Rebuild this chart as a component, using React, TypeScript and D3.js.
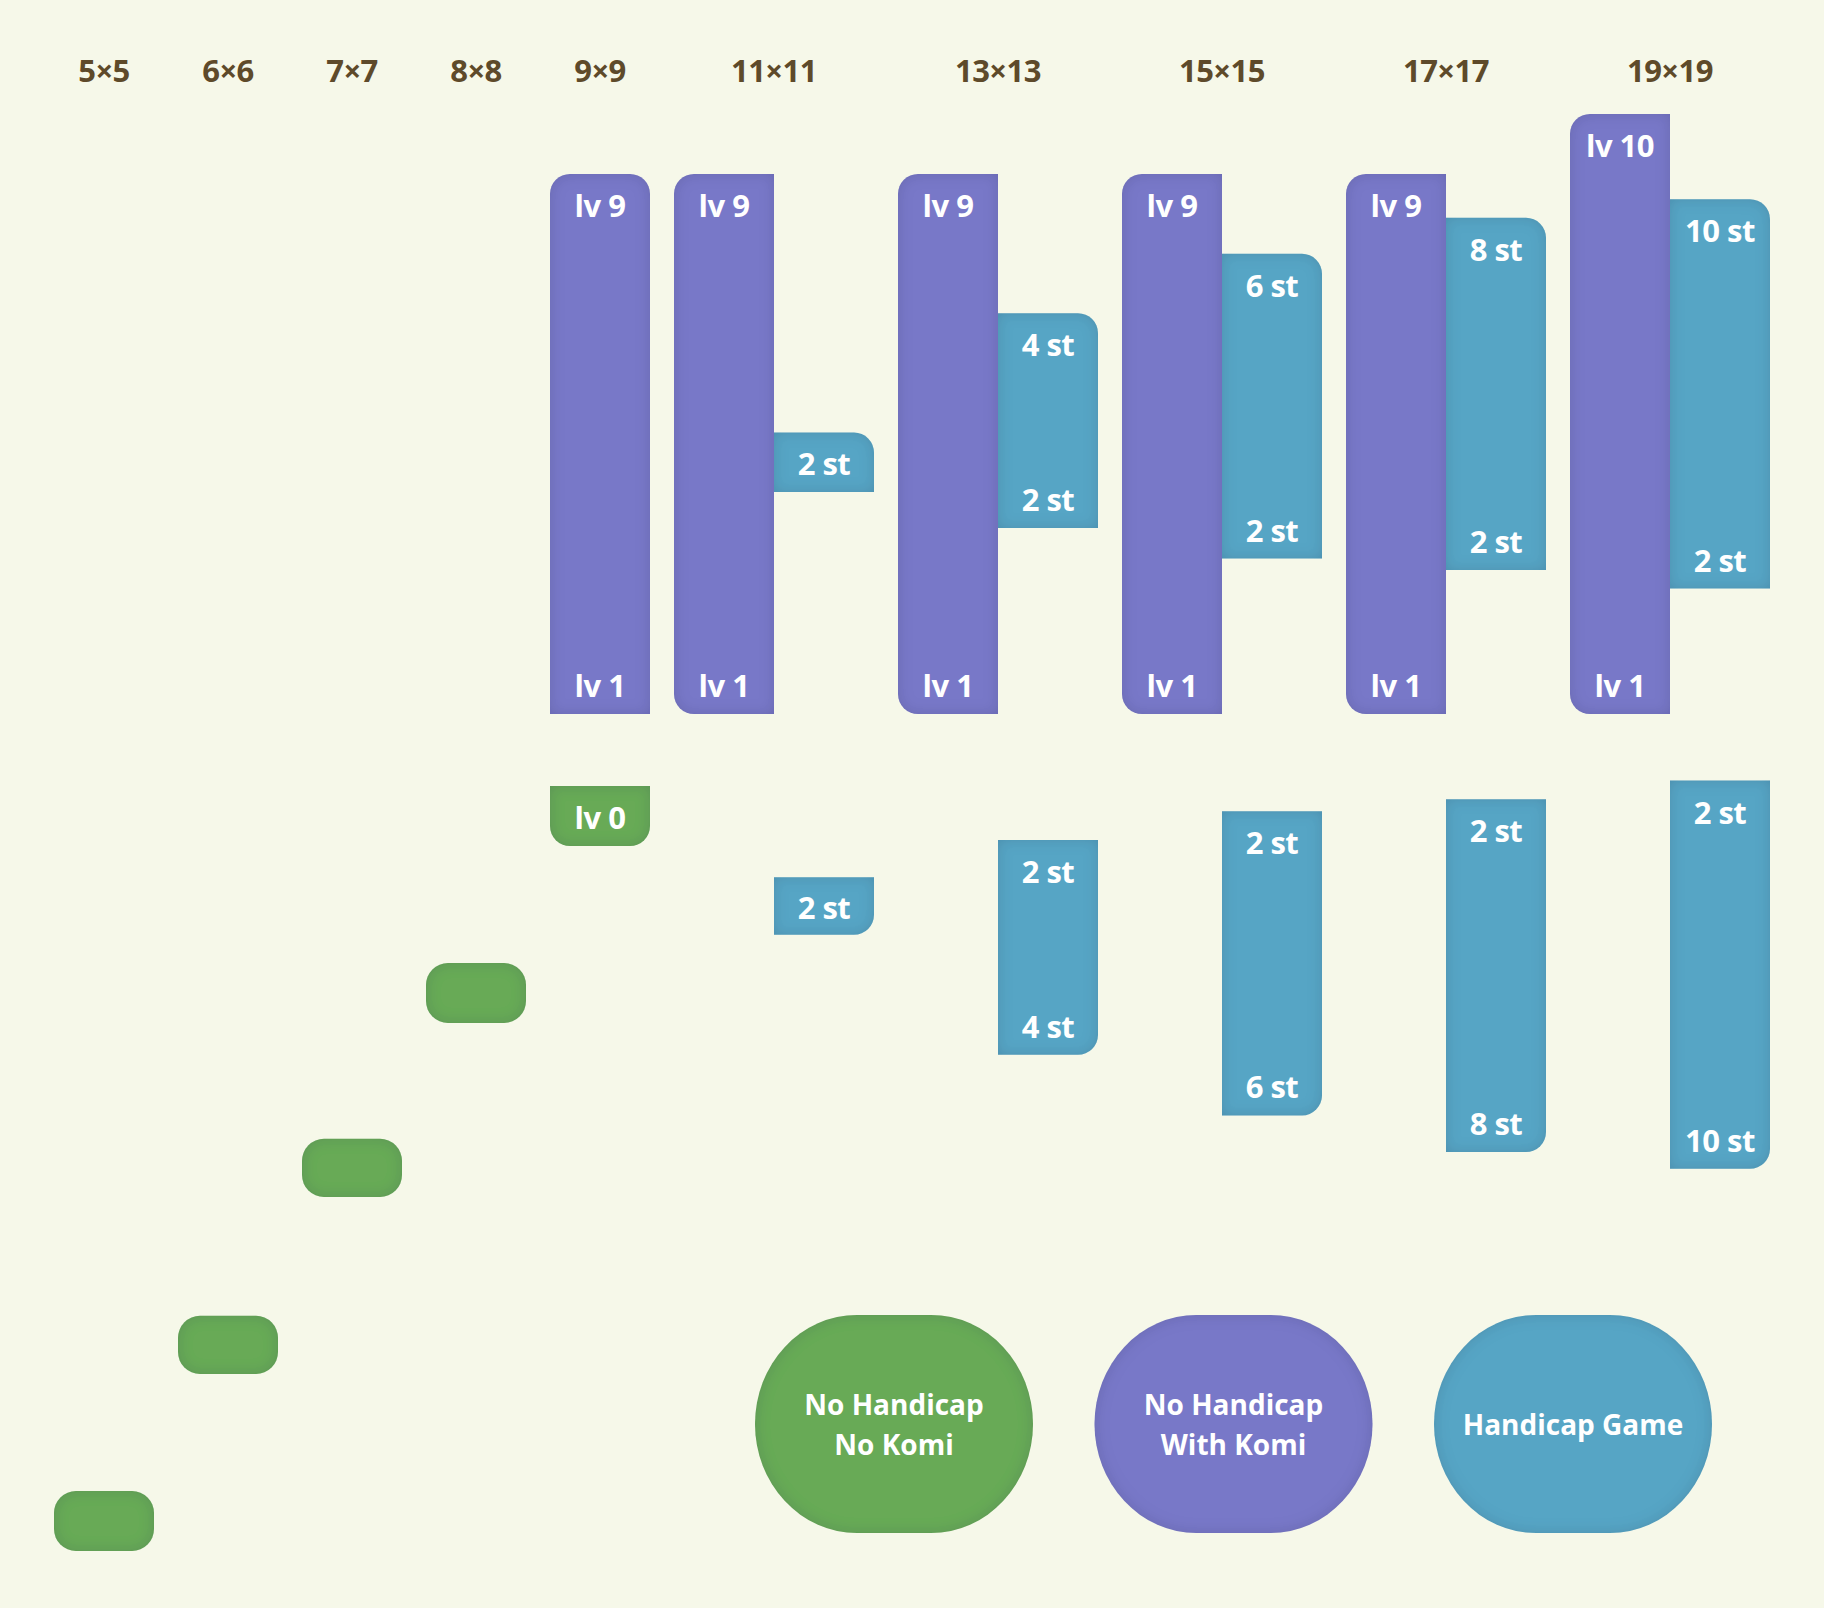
import React, { useEffect } from "react";
import * as d3 from "d3";

// ---------- data ----------
const BOARDS = ["5×5", "6×6", "7×7", "8×8", "9×9", "11×11", "13×13", "15×15", "17×17", "19×19"];
const SLOTS = [1, 1, 1, 1, 1, 2, 2, 2, 2, 2];

// No handicap, no komi (green) — vertical extent in level units
const NOKOMI_TOP = [-12.95, -10.03, -7.08, -4.15, -1.2, null, null, null, null, null];
const NOKOMI_BOTTOM = [-13.95, -11.0, -8.05, -5.15, -2.2, null, null, null, null, null];
const NOKOMI_LABEL = ["", "", "", "", "lv 0", "", "", "", "", ""];

// No handicap, with komi (purple) — level range
const KOMI_MIN = [null, null, null, null, 1, 1, 1, 1, 1, 1];
const KOMI_MAX = [null, null, null, null, 9, 9, 9, 9, 9, 10];

// Handicap game (teal) — stones range and vertical extents in level units
const HC_MIN = [null, null, null, null, null, 2, 2, 2, 2, 2];
const HC_MAX = [null, null, null, null, null, 2, 4, 6, 8, 10];
const HC_UP_TOP = [null, null, null, null, null, 4.69, 6.68, 7.67, 8.27, 8.58];
const HC_UP_BOTTOM = [null, null, null, null, null, 3.7, 3.1, 2.59, 2.4, 2.09];
const HC_LOW_TOP = [null, null, null, null, null, -2.72, -2.1, -1.62, -1.42, -1.11];
const HC_LOW_BOTTOM = [null, null, null, null, null, -3.68, -5.68, -6.69, -7.3, -7.58];

const LEGEND = [
  { key: "green", lines: ["No Handicap", "No Komi"] },
  { key: "purple", lines: ["No Handicap", "With Komi"] },
  { key: "teal", lines: ["Handicap Game"] },
];

// ---------- styles ----------
const W = 1824;
const H = 1608;
const BG = "#f6f8e9";
const COLORS: Record<string, string> = { green: "#67aa56", purple: "#7878c8", teal: "#56a5c5" };
const LABEL_COLOR = "#5e4a2a";
const FONT = "'Open Sans', 'Noto Sans', sans-serif";
const GAP = 0.24; // gap between columns, in slot units
const SLOT_PX = 100;

function roundedPath(x: number, y: number, w: number, h: number, r: number, c: [boolean, boolean, boolean, boolean]) {
  const [tl, tr, br, bl] = c;
  const p = d3.path();
  p.moveTo(x + (tl ? r : 0), y);
  p.lineTo(x + w - (tr ? r : 0), y);
  if (tr) p.arcTo(x + w, y, x + w, y + r, r);
  p.lineTo(x + w, y + h - (br ? r : 0));
  if (br) p.arcTo(x + w, y + h, x + w - r, y + h, r);
  p.lineTo(x + (bl ? r : 0), y + h);
  if (bl) p.arcTo(x, y + h, x, y + h - r, r);
  p.lineTo(x, y + (tl ? r : 0));
  if (tl) p.arcTo(x, y, x + r, y, r);
  p.closePath();
  return p.toString();
}

export default function App() {
  useEffect(() => {
    document.body.style.margin = "0";
    document.body.style.background = BG;
  }, []);

  // x layout: cumulative slot units
  const starts: number[] = [];
  let acc = 0;
  SLOTS.forEach((s, i) => {
    starts.push(acc);
    acc += s + (i < SLOTS.length - 1 ? GAP : 0);
  });
  const total = acc;
  const x = d3.scaleLinear().domain([0, total]).range([54, 54 + total * SLOT_PX]);
  const slotW = x(1) - x(0);

  // y: level units (boundary of lv1 bottom = 0)
  const y = d3.scaleLinear().domain([0, 9]).range([714, 174]);

  const R = 20;
  const shapes: React.ReactNode[] = [];
  const texts: React.ReactNode[] = [];
  const labelInset = 30;

  const barText = (key: string, cx: number, cy: number, t: string) => (
    <text key={key} x={cx} y={cy} dy="0.42em" textAnchor="middle" fill="#fff" fontFamily={FONT} fontWeight={700} fontSize={31} letterSpacing={-0.5}>
      {t}
    </text>
  );

  BOARDS.forEach((b, i) => {
    const x0 = x(starts[i]);
    // green
    if (NOKOMI_TOP[i] !== null) {
      const t = y(NOKOMI_TOP[i] as number);
      const bt = y(NOKOMI_BOTTOM[i] as number);
      const underPurple = KOMI_MIN[i] !== null;
      const corners: [boolean, boolean, boolean, boolean] = underPurple ? [false, false, true, true] : [true, true, true, true];
      shapes.push(
        <path key={`g${i}`} d={roundedPath(x0, t, slotW, bt - t, underPurple ? R : 22, corners)} fill={COLORS.green} filter="url(#inset)" />
      );
      if (NOKOMI_LABEL[i]) texts.push(barText(`gt${i}`, x0 + slotW / 2, (t + bt) / 2, NOKOMI_LABEL[i]));
    }
    // purple
    if (KOMI_MIN[i] !== null) {
      const lo = KOMI_MIN[i] as number;
      const hi = KOMI_MAX[i] as number;
      const t = y(hi);
      const bt = y(lo - 1);
      const hasHc = HC_MIN[i] !== null;
      const hasGreen = NOKOMI_TOP[i] !== null;
      const corners: [boolean, boolean, boolean, boolean] = [true, !hasHc, !hasHc && !hasGreen, !hasGreen];
      shapes.push(<path key={`p${i}`} d={roundedPath(x0, t, slotW, bt - t, R, corners)} fill={COLORS.purple} filter="url(#inset)" />);
      texts.push(barText(`pt${i}`, x0 + slotW / 2, t + labelInset, `lv ${hi}`));
      texts.push(barText(`pb${i}`, x0 + slotW / 2, bt - labelInset, `lv ${lo}`));
    }
    // teal
    if (HC_MIN[i] !== null) {
      const lo = HC_MIN[i] as number;
      const hi = HC_MAX[i] as number;
      const tx = x(starts[i] + 1);
      const ut = y(HC_UP_TOP[i] as number);
      const ub = y(HC_UP_BOTTOM[i] as number);
      const lt = y(HC_LOW_TOP[i] as number);
      const lb = y(HC_LOW_BOTTOM[i] as number);
      shapes.push(<path key={`tu${i}`} d={roundedPath(tx, ut, slotW, ub - ut, R, [false, true, false, false])} fill={COLORS.teal} filter="url(#inset)" />);
      shapes.push(<path key={`tl${i}`} d={roundedPath(tx, lt, slotW, lb - lt, R, [false, false, true, false])} fill={COLORS.teal} filter="url(#inset)" />);
      const cx = tx + slotW / 2;
      if (lo === hi) {
        texts.push(barText(`tut${i}`, cx, (ut + ub) / 2, `${hi} st`));
        texts.push(barText(`tlt${i}`, cx, (lt + lb) / 2, `${lo} st`));
      } else {
        texts.push(barText(`tut${i}`, cx, ut + labelInset, `${hi} st`));
        texts.push(barText(`tub${i}`, cx, ub - labelInset, `${lo} st`));
        texts.push(barText(`tlt${i}`, cx, lt + labelInset, `${lo} st`));
        texts.push(barText(`tlb${i}`, cx, lb - labelInset, `${hi} st`));
      }
    }
  });

  // legend
  const lx = d3.scalePoint<string>().domain(LEGEND.map((d) => d.key)).range([894, 1573]);
  const LW = 278;
  const LH = 218;
  const LCY = 1424;

  return (
    <svg width={W} height={H} style={{ display: "block", background: BG }}>
      <defs>
        <filter id="inset" x="-20%" y="-20%" width="140%" height="140%">
          <feComponentTransfer in="SourceAlpha" result="inv">
            <feFuncA type="table" tableValues="1 0" />
          </feComponentTransfer>
          <feGaussianBlur in="inv" stdDeviation="7" result="blur" />
          <feFlood floodColor="#2a2a55" floodOpacity="0.3" result="col" />
          <feComposite in="col" in2="blur" operator="in" result="sh" />
          <feComposite in="sh" in2="SourceAlpha" operator="in" result="inner" />
          <feMerge>
            <feMergeNode in="SourceGraphic" />
            <feMergeNode in="inner" />
          </feMerge>
        </filter>
      </defs>
      <rect x={0} y={0} width={W} height={H} fill={BG} />
      {BOARDS.map((b, i) => (
        <text key={`lab${i}`} x={x(starts[i] + SLOTS[i] / 2)} y={71} dy="0.35em" textAnchor="middle" fill={LABEL_COLOR} fontFamily={FONT} fontWeight={700} fontSize={31} letterSpacing={-0.5}>
          {b}
        </text>
      ))}
      {shapes}
      {texts}
      {LEGEND.map((d) => {
        const cx = lx(d.key) as number;
        const n = d.lines.length;
        return (
          <g key={d.key}>
            <rect x={cx - LW / 2} y={LCY - LH / 2} width={LW} height={LH} rx={102} ry={109} fill={COLORS[d.key]} filter="url(#inset)" />
            {d.lines.map((ln, j) => (
              <text key={j} x={cx} y={LCY + (j - (n - 1) / 2) * 40} dy="0.38em" textAnchor="middle" fill="#fff" fontFamily={FONT} fontWeight={700} fontSize={28}>
                {ln}
              </text>
            ))}
          </g>
        );
      })}
    </svg>
  );
}
